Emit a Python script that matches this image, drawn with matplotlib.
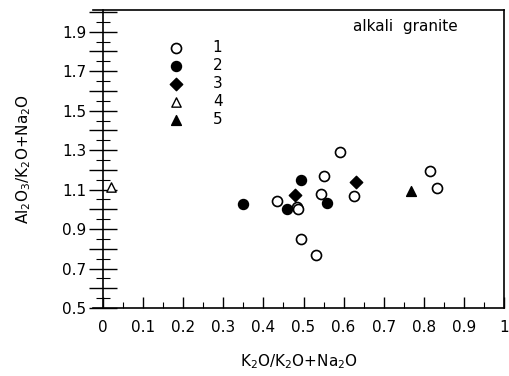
import matplotlib
matplotlib.use('Agg')
import matplotlib.pyplot as plt
from matplotlib.ticker import FixedLocator

# group 1: open circles
x1 = [0.435, 0.484, 0.486, 0.494, 0.531, 0.543, 0.551, 0.59, 0.625, 0.815, 0.832]
y1 = [1.04, 1.01, 1.00, 0.85, 0.77, 1.08, 1.17, 1.29, 1.07, 1.195, 1.11]
# group 2: filled circles
x2 = [0.348, 0.459, 0.494, 0.558]
y2 = [1.028, 1.00, 1.15, 1.03]
# group 3: filled diamonds
x3 = [0.479, 0.63]
y3 = [1.075, 1.14]
# group 4: open triangles
x4 = [0.02]
y4 = [1.115]
# group 5: filled triangles
x5 = [0.768]
y5 = [1.094]

yticks = [0.5, 0.6, 0.7, 0.8, 0.9, 1.0, 1.1, 1.2, 1.3, 1.4, 1.5, 1.6, 1.7, 1.8, 1.9, 2.0]
ylabels = ['0.5', '', '0.7', '', '0.9', '', '1.1', '', '1.3', '', '1.5', '', '1.7', '', '1.9', '']
xticks = [0, 0.1, 0.2, 0.3, 0.4, 0.5, 0.6, 0.7, 0.8, 0.9, 1.0]
xlabels = ['0', '0.1', '0.2', '0.3', '0.4', '0.5', '0.6', '0.7', '0.8', '0.9', '1']

plt.rcParams['font.family'] = 'DejaVu Sans'

fig = plt.figure(figsize=(5.1, 3.76), dpi=100)
ax = fig.add_axes([93/510, 1 - 308/376, 411/510, 298/376])

ax.scatter(x1, y1, s=52, facecolors='white', edgecolors='black', linewidths=1.2, marker='o', label='1', zorder=3)
ax.scatter(x2, y2, s=52, c='black', marker='o', label='2', zorder=3)
ax.scatter(x3, y3, s=40, c='black', marker='D', label='3', zorder=3)
ax.scatter(x4, y4, s=45, facecolors='white', edgecolors='black', linewidths=1.0, marker='^', label='4', zorder=3)
ax.scatter(x5, y5, s=50, c='black', marker='^', label='5', zorder=3)

ax.set_xlim(-0.025, 1.0)
ax.set_ylim(0.5, 2.01)
ax.spines['left'].set_position(('data', 0))

ax.set_xticks(xticks)
ax.set_xticklabels(xlabels)
ax.xaxis.set_minor_locator(FixedLocator([0.05 + 0.1*i for i in range(10)]))
ax.set_yticks(yticks)
ax.set_yticklabels(ylabels)
ax.yaxis.set_minor_locator(FixedLocator([0.55 + 0.1*i for i in range(15)]))

ax.tick_params(axis='x', which='major', direction='in', length=8, width=1, pad=9, labelsize=11)
ax.tick_params(axis='x', which='minor', direction='in', length=4, width=0.8)
ax.tick_params(axis='y', which='major', direction='inout', length=20, width=1, pad=2, labelsize=11)
ax.tick_params(axis='y', which='minor', direction='inout', length=10, width=0.8)

for s in ax.spines.values():
    s.set_linewidth(1.2)

ax.set_xlabel('K$_2$O/K$_2$O+Na$_2$O', fontsize=11, labelpad=12)
ax.set_ylabel('Al$_2$O$_3$/K$_2$O+Na$_2$O', fontsize=11, labelpad=21)

ax.text(0.759, 0.943, 'alkali  granite', transform=ax.transAxes, ha='center', va='center', fontsize=11)

ax.legend(loc='upper left', bbox_to_anchor=(0.165, 0.925), frameon=False, fontsize=11,
          handlelength=1.0, handletextpad=1.9, labelspacing=0.2, borderpad=0, scatterpoints=1)

fig.savefig('out.png', dpi=100)
